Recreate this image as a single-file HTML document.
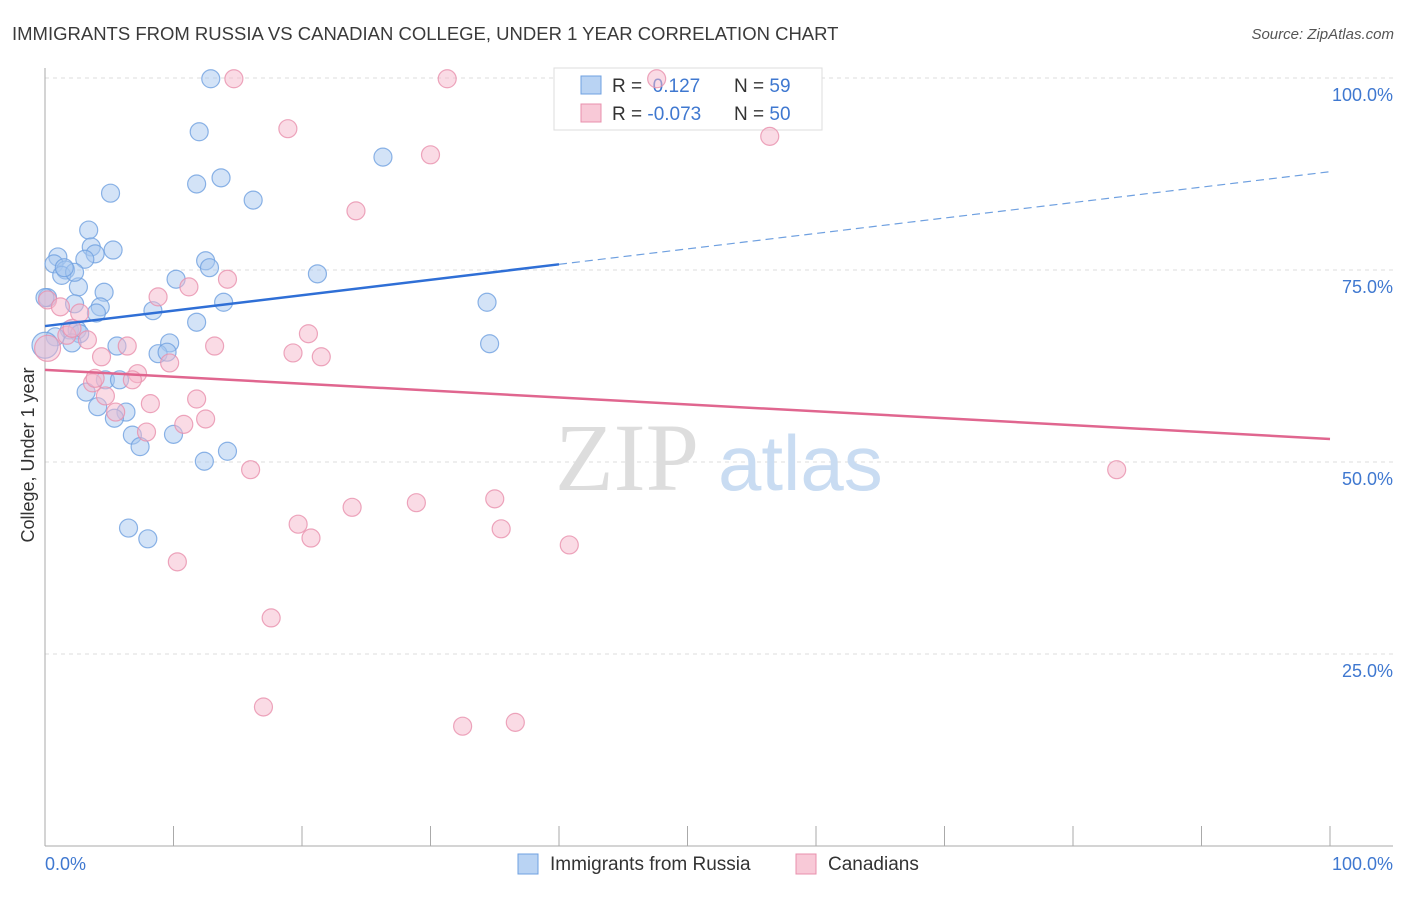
<!DOCTYPE html>
<html><head><meta charset="utf-8"><style>
body{margin:0;background:#fff;font-family:"Liberation Sans",sans-serif}
svg text{font-family:"Liberation Sans",sans-serif}
</style></head><body>
<svg id="chart" width="1406" height="892" xmlns="http://www.w3.org/2000/svg">
<text x="12" y="40" font-size="18.5" fill="#3a3a3a">IMMIGRANTS FROM RUSSIA VS CANADIAN COLLEGE, UNDER 1 YEAR CORRELATION CHART</text>
<text x="1394" y="39" font-size="15" fill="#555" font-style="italic" text-anchor="end">Source: ZipAtlas.com</text>
<g id="grid"></g>
<g>
<text x="555" y="490" font-size="96" fill="#ddd" style="font-family:'Liberation Serif',serif">ZIP</text>
<text x="718" y="490" font-size="78" fill="#c9dcf2">atlas</text>
</g>
<line x1="45" y1="68" x2="45" y2="846" stroke="#aaa"/>
<line x1="45" y1="846" x2="1393" y2="846" stroke="#aaa"/>
<g id="ticks"></g>
<g>
<rect x="554" y="68" width="268" height="62" fill="#fff" stroke="#ddd"/>
<rect x="581" y="76" width="20" height="18" fill="#b9d3f3" stroke="#6fa0e0"/>
<rect x="581" y="104" width="20" height="18" fill="#f8c9d7" stroke="#e890ac"/>
<text x="612" y="92" font-size="19" fill="#333">R = <tspan fill="#3f78d0">&#160;0.127</tspan><tspan x="734">N = </tspan><tspan fill="#3f78d0">59</tspan></text>
<text x="612" y="120" font-size="19" fill="#333">R = <tspan fill="#3f78d0">-0.073</tspan><tspan x="734">N = </tspan><tspan fill="#3f78d0">50</tspan></text>
</g>
<g id="pts"></g>
<g id="trend"></g>
<text x="34" y="455" font-size="18" fill="#333" text-anchor="middle" transform="rotate(-90 34 455)">College, Under 1 year</text>
<text x="45" y="870" font-size="18" fill="#3f78d0">0.0%</text>
<text x="1393" y="870" font-size="18" fill="#3f78d0" text-anchor="end">100.0%</text>
<g>
<rect x="518" y="854" width="20" height="20" fill="#b9d3f3" stroke="#6fa0e0"/>
<text x="550" y="870" font-size="19" fill="#333">Immigrants from Russia</text>
<rect x="796" y="854" width="20" height="20" fill="#f8c9d7" stroke="#e890ac"/>
<text x="828" y="870" font-size="19" fill="#333">Canadians</text>
</g>
</svg>
<script>
const yTicks=[25,50,75,100];
const yTickLabels=["25.0%","50.0%","75.0%","100.0%"];
const xTicks=[0,10,20,30,40,50,60,70,80,90,100];
const blueX=[12.9,12.0,5.1,11.8,13.7,16.2,26.3,3.4,3.6,5.3,3.9,1.0,3.1,0.7,1.6,1.3,12.5,12.8,10.2,21.2,2.6,4.6,0.2,2.3,4.3,4.0,13.9,8.4,11.8,34.4,1.9,2.5,2.7,0.8,2.1,5.6,9.7,8.8,9.5,34.6,4.7,5.8,3.2,4.1,6.3,5.4,6.8,10.0,7.4,12.4,14.2,6.5,8.0,0,0,2.3,1.5];
const blueY=[99.9,93.0,85.0,86.2,87.0,84.1,89.7,80.2,78.0,77.6,77.1,76.7,76.4,75.8,75.0,74.3,76.2,75.3,73.8,74.5,72.8,72.1,71.4,70.6,70.2,69.4,70.8,69.7,68.2,70.8,67.2,67.2,66.7,66.3,65.5,65.1,65.5,64.1,64.3,65.4,60.7,60.7,59.1,57.2,56.5,55.7,53.5,53.6,52.0,50.1,51.4,41.4,40.0,71.4,65.2,74.7,75.3];
const pinkX=[14.7,31.3,47.6,18.9,30.0,56.4,24.2,14.2,11.2,8.8,0.2,1.2,2.7,20.5,1.7,3.3,13.2,6.4,19.3,21.5,9.7,4.4,7.2,6.8,3.7,4.7,11.8,8.2,5.5,12.5,10.8,7.9,16.0,83.4,23.9,28.9,35.0,19.7,20.7,35.5,40.8,10.3,17.6,17.0,32.5,36.6,0.2,2.1,3.9];
const pinkY=[99.9,99.9,99.9,93.4,90.0,92.4,82.7,73.8,72.8,71.5,71.1,70.2,69.4,66.7,66.5,65.9,65.1,65.1,64.2,63.7,62.9,63.7,61.5,60.7,60.3,58.6,58.2,57.6,56.5,55.6,54.9,53.9,49.0,49.0,44.1,44.7,45.2,41.9,40.1,41.3,39.2,37.0,29.7,18.1,15.6,16.1,64.8,67.4,60.9];
const blueTrend=[67.7,87.8];
const pinkTrend=[62.0,53.0];
const NS="http://www.w3.org/2000/svg";
const sx=v=>45+v*12.85, sy=v=>846-v*7.68;
function mk(t,a,p){const e=document.createElementNS(NS,t);for(const k in a)e.setAttribute(k,a[k]);p.appendChild(e);return e;}
const grid=document.getElementById('grid');
yTicks.forEach((t,i)=>{
 const l=mk('line',{x1:45,x2:1393,y1:sy(t),y2:sy(t),stroke:'#ddd','stroke-dasharray':'4 4'},grid);
 
 
 const tx=mk('text',{x:1393,y:sy(t)+23,'font-size':18,fill:'#3f78d0','text-anchor':'end'},grid);
 tx.textContent=yTickLabels[i];
 
 
});
const tk=document.getElementById('ticks');
xTicks.forEach(t=>{
 const l=mk('line',{x1:sx(t),x2:sx(t),y1:826,y2:846,stroke:'#aaa'},tk);
 
 
});
const pts=document.getElementById('pts');
function dots(X,Y,fill,stroke,name){
 X.forEach((x,i)=>{
  const r=(x===0||x===0.2)&&i>=X.length-3?13:9;
  const c=mk('circle',{cx:sx(x),cy:sy(Y[i]),r:r,fill:fill,'fill-opacity':0.5,stroke:stroke,'stroke-opacity':0.8,'stroke-width':1.2},pts);
  
  
 });
}
dots(blueX,blueY,'#a8c8f0','#6fa0e0','russia-point');
dots(pinkX,pinkY,'#f5b8cb','#e890ac','canadians-point');
const tr=document.getElementById('trend');
const bMid=blueTrend[0]+(blueTrend[1]-blueTrend[0])*0.4;
let l1=mk('line',{x1:sx(0),y1:sy(blueTrend[0]),x2:sx(40),y2:sy(bMid),stroke:'#2f6fd6','stroke-width':2.5},tr);


let l2=mk('line',{x1:sx(40),y1:sy(bMid),x2:sx(100),y2:sy(blueTrend[1]),stroke:'#6fa0e0','stroke-width':1.2,'stroke-dasharray':'8 5'},tr);


let l3=mk('line',{x1:sx(0),y1:sy(pinkTrend[0]),x2:sx(100),y2:sy(pinkTrend[1]),stroke:'#e0668f','stroke-width':2.5},tr);


</script>
</body></html>
